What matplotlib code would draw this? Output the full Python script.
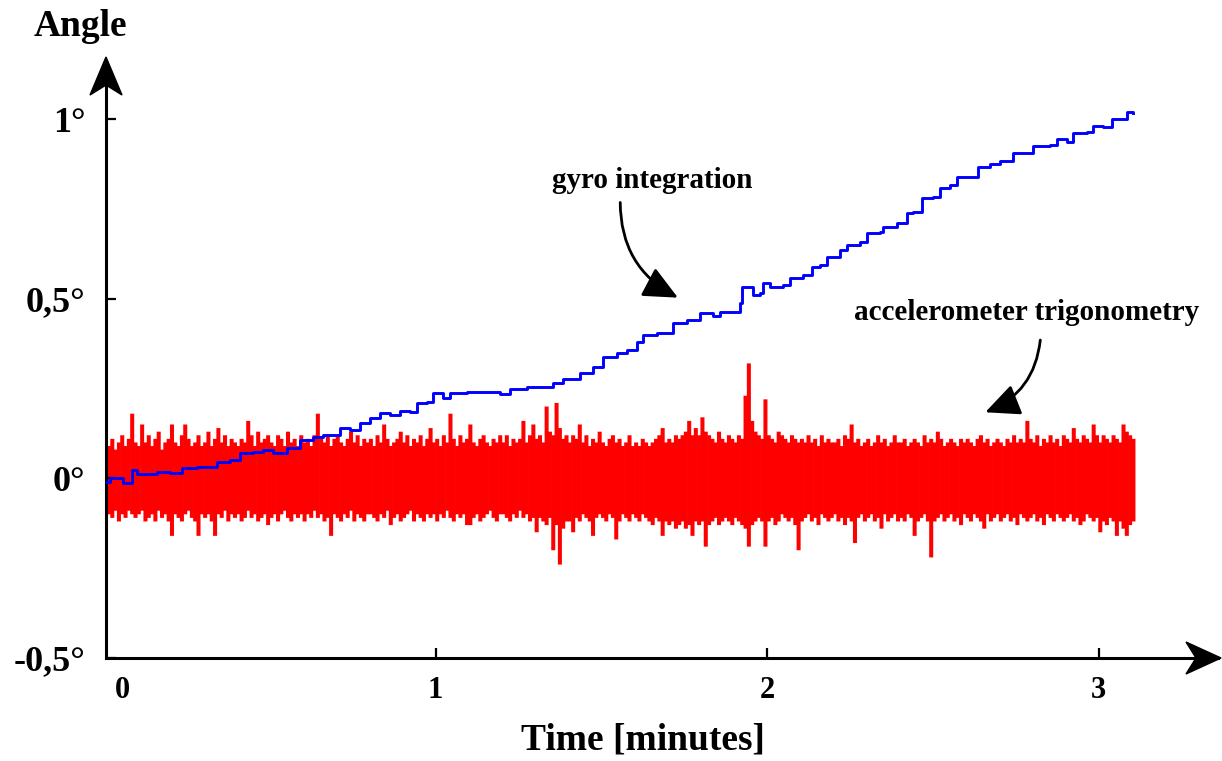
import numpy as np
import matplotlib.pyplot as plt
from matplotlib.patches import FancyArrowPatch, Polygon

plt.rcParams['font.family'] = ['Liberation Serif', 'DejaVu Serif']
plt.rcParams['font.weight'] = 'bold'

# gyro integration (blue), degrees vs minutes
t_gyro = [0.006, 0.018, 0.057, 0.084, 0.100, 0.160, 0.199, 0.235, 0.281, 0.341,
          0.380, 0.410, 0.450, 0.480, 0.510, 0.552, 0.591, 0.630, 0.660, 0.712,
          0.742, 0.772, 0.802, 0.833, 0.863, 0.893, 0.923, 0.944, 0.974, 0.992,
          1.023, 1.044, 1.095, 1.134, 1.195, 1.225, 1.276, 1.315, 1.354, 1.385,
          1.436, 1.475, 1.505, 1.548, 1.578, 1.608, 1.626, 1.668, 1.716, 1.759,
          1.798, 1.837, 1.858, 1.888, 1.919, 1.925, 1.943, 1.958, 1.979, 1.988,
          2.009, 2.048, 2.069, 2.109, 2.136, 2.160, 2.181, 2.220, 2.241, 2.281,
          2.302, 2.341, 2.350, 2.392, 2.422, 2.440, 2.468, 2.501, 2.522, 2.552,
          2.573, 2.612, 2.637, 2.673, 2.703, 2.742, 2.793, 2.802, 2.854, 2.875,
          2.905, 2.923, 2.965, 2.983, 3.014, 3.041, 3.065, 3.086, 3.104]
gyro = [-0.010, 0.001, -0.013, 0.023, 0.012, 0.018, 0.015, 0.029, 0.031, 0.045,
        0.051, 0.071, 0.073, 0.079, 0.071, 0.084, 0.107, 0.115, 0.121, 0.140,
        0.135, 0.154, 0.168, 0.182, 0.176, 0.187, 0.185, 0.210, 0.212, 0.237,
        0.223, 0.237, 0.240, 0.240, 0.235, 0.249, 0.254, 0.254, 0.265, 0.276,
        0.293, 0.310, 0.338, 0.349, 0.357, 0.379, 0.399, 0.405, 0.432, 0.441,
        0.460, 0.452, 0.463, 0.463, 0.488, 0.533, 0.533, 0.510, 0.516, 0.544,
        0.533, 0.538, 0.557, 0.566, 0.588, 0.594, 0.616, 0.636, 0.649, 0.658,
        0.683, 0.686, 0.699, 0.711, 0.739, 0.741, 0.780, 0.783, 0.808, 0.816,
        0.839, 0.839, 0.866, 0.875, 0.883, 0.906, 0.906, 0.925, 0.928, 0.944,
        0.936, 0.961, 0.964, 0.980, 0.978, 0.999, 0.999, 1.019, 1.016]

# accelerometer trigonometry (red): upper / lower peak per 0.01 min, in 1/100 degree
acc_dt = 0.01
acc_hi = [10, 9, 11, 8, 10, 12, 9, 11, 18, 10,
          9, 15, 10, 12, 9, 11, 13, 8, 10, 11,
          15, 10, 9, 12, 15, 11, 9, 10, 12, 9,
          10, 13, 9, 11, 14, 10, 12, 9, 11, 10,
          9, 11, 10, 16, 12, 9, 13, 10, 11, 12,
          10, 9, 12, 11, 9, 13, 10, 11, 9, 12,
          10, 11, 9, 12, 18, 11, 10, 12, 9, 11,
          12, 10, 9, 11, 13, 10, 12, 9, 11, 10,
          11, 9, 12, 10, 15, 11, 9, 10, 11, 13,
          10, 12, 9, 11, 10, 12, 9, 11, 14, 10,
          11, 9, 12, 10, 18, 11, 9, 12, 10, 11,
          15, 10, 9, 11, 12, 10, 9, 11, 10, 12,
          10, 12, 9, 11, 10, 11, 16, 10, 12, 15,
          11, 12, 10, 20, 13, 12, 21, 14, 11, 12,
          10, 12, 11, 15, 10, 12, 9, 11, 10, 13,
          10, 9, 11, 12, 10, 11, 9, 10, 12, 9,
          10, 9, 11, 10, 9, 10, 11, 12, 14, 10,
          11, 10, 12, 11, 12, 13, 16, 12, 14, 12,
          17, 13, 12, 11, 10, 13, 11, 10, 12, 11,
          10, 12, 11, 23, 32, 16, 13, 12, 11, 22,
          12, 11, 10, 13, 12, 11, 10, 12, 11, 10,
          11, 10, 12, 10, 11, 9, 12, 10, 11, 10,
          10, 11, 9, 12, 11, 15, 10, 11, 9, 10,
          11, 9, 10, 12, 10, 11, 9, 10, 12, 10,
          10, 11, 9, 10, 11, 10, 9, 12, 10, 11,
          10, 13, 11, 9, 10, 11, 10, 9, 11, 10,
          11, 10, 9, 11, 12, 10, 11, 9, 10, 11,
          10, 9, 11, 10, 12, 10, 11, 10, 16, 11,
          10, 12, 9, 11, 10, 12, 10, 11, 9, 12,
          11, 10, 14, 11, 10, 12, 11, 10, 15, 12,
          10, 12, 11, 10, 12, 11, 10, 15, 13, 12, 11]
acc_lo = [-12, -10, -11, -9, -12, -10, -11, -9, -10, -11,
          -10, -9, -12, -11, -10, -12, -9, -11, -10, -12,
          -16, -10, -11, -12, -10, -9, -11, -12, -16, -10,
          -11, -10, -12, -16, -10, -11, -9, -12, -10, -11,
          -10, -12, -11, -9, -11, -10, -12, -11, -10, -13,
          -11, -10, -12, -10, -9, -11, -12, -10, -11, -10,
          -12, -10, -11, -9, -11, -10, -12, -11, -16, -10,
          -11, -12, -10, -11, -9, -12, -10, -11, -12, -10,
          -10, -11, -12, -10, -11, -9, -13, -11, -10, -12,
          -11, -10, -9, -12, -10, -11, -12, -10, -11, -10,
          -12, -10, -11, -9, -11, -12, -10, -11, -10, -13,
          -13, -11, -10, -12, -11, -10, -9, -11, -12, -10,
          -10, -11, -12, -10, -11, -9, -11, -10, -12, -11,
          -15, -11, -12, -13, -11, -20, -13, -24, -14, -12,
          -12, -15, -11, -12, -10, -11, -12, -16, -11, -10,
          -11, -12, -10, -11, -17, -12, -10, -11, -12, -10,
          -11, -12, -10, -11, -12, -13, -11, -12, -16, -12,
          -13, -12, -14, -13, -12, -14, -13, -16, -12, -13,
          -12, -19, -13, -12, -11, -13, -12, -11, -12, -13,
          -11, -12, -13, -14, -19, -13, -12, -11, -12, -19,
          -12, -11, -13, -12, -10, -11, -12, -11, -13, -20,
          -12, -11, -10, -12, -11, -13, -10, -11, -12, -11,
          -10, -12, -11, -13, -11, -12, -18, -11, -10, -12,
          -11, -10, -12, -11, -14, -10, -12, -11, -10, -12,
          -11, -12, -10, -11, -16, -12, -11, -10, -12, -22,
          -12, -11, -10, -12, -11, -10, -12, -11, -13, -10,
          -11, -12, -10, -11, -12, -14, -10, -12, -11, -10,
          -12, -11, -10, -12, -11, -13, -10, -11, -12, -11,
          -10, -12, -11, -13, -10, -11, -12, -10, -11, -12,
          -11, -10, -12, -11, -13, -12, -10, -11, -12, -11,
          -15, -12, -13, -11, -12, -16, -12, -14, -16, -13, -12]

xticks = [1, 2, 3]
yticks = [-0.5, 0, 0.5, 1]
ytick_labels = ['-0,5°', '0°', '0,5°', '1°']

W, H = 1222, 761


def fpx(x, y):
    # pixel position (top-left origin) -> figure fraction
    return (x / W, 1 - y / H)


fig = plt.figure(figsize=(W / 100, H / 100), dpi=100)
ax = fig.add_axes([106 / W, 1 - 658 / H, (1218 - 106) / W, (658 - 62) / H])

# red signal: one vertical stroke per sample bin, from lower to upper peak
t_acc = np.arange(len(acc_hi)) * acc_dt + acc_dt / 2
red = ax.vlines(t_acc, np.array(acc_lo) / 100, np.array(acc_hi) / 100,
                color='#ff0000', lw=2.9, zorder=2)
red.set_snap(False)
red.set_capstyle('butt')

ax.plot(t_gyro, gyro, color='#0000ff', lw=2.1, drawstyle='steps-post', zorder=3)

ax.set_xlim(0.006, 3.36)
ax.set_ylim(-0.5, 1.159)

for s in ['top', 'right']:
    ax.spines[s].set_visible(False)
for s in ['left', 'bottom']:
    ax.spines[s].set_linewidth(2.2)
ax.set_axisbelow(False)

ax.set_xticks(xticks)
ax.set_xticklabels([str(v) for v in xticks])
ax.set_yticks(yticks)
ax.set_yticklabels(ytick_labels)
ax.tick_params(axis='both', direction='in', length=7, width=1.6)
ax.tick_params(axis='y', labelsize=26, pad=15)
ax.tick_params(axis='x', labelsize=22, pad=13)
ax.annotate('0', xy=(0, -0.5), xytext=(18, -18), textcoords='offset pixels',
            ha='center', va='top', fontsize=22, annotation_clip=False)

# axis arrow heads
yhead = Polygon([fpx(106, 57), fpx(90, 95), fpx(106, 85), fpx(122, 95)],
                closed=True, transform=fig.transFigure, color='black', zorder=10)
xhead = Polygon([fpx(1221, 658), fpx(1186, 642), fpx(1196, 658), fpx(1186, 674)],
                closed=True, transform=fig.transFigure, color='black', zorder=10)
fig.add_artist(yhead)
fig.add_artist(xhead)

fig.text(*fpx(80, 27), 'Angle', fontsize=27, ha='center', va='center')
fig.text(*fpx(643, 740), 'Time [minutes]', fontsize=27, ha='center', va='center')

# annotations
ax.text(1.653, 0.83, 'gyro integration', fontsize=21, ha='center', va='center')
ax.text(2.784, 0.462, 'accelerometer trigonometry', fontsize=21, ha='center', va='center')
ax.add_patch(FancyArrowPatch((1.557, 0.768), (1.731, 0.503),
                             arrowstyle='-|>,head_length=1.4,head_width=0.65',
                             connectionstyle='arc3,rad=0.3', mutation_scale=15,
                             lw=2, color='black', shrinkA=0, shrinkB=0, zorder=5))
ax.add_patch(FancyArrowPatch((2.824, 0.385), (2.658, 0.184),
                             arrowstyle='-|>,head_length=1.4,head_width=0.65',
                             connectionstyle='arc3,rad=-0.3', mutation_scale=15,
                             lw=2, color='black', shrinkA=0, shrinkB=0, zorder=5))

fig.savefig('out.png', dpi=100)
